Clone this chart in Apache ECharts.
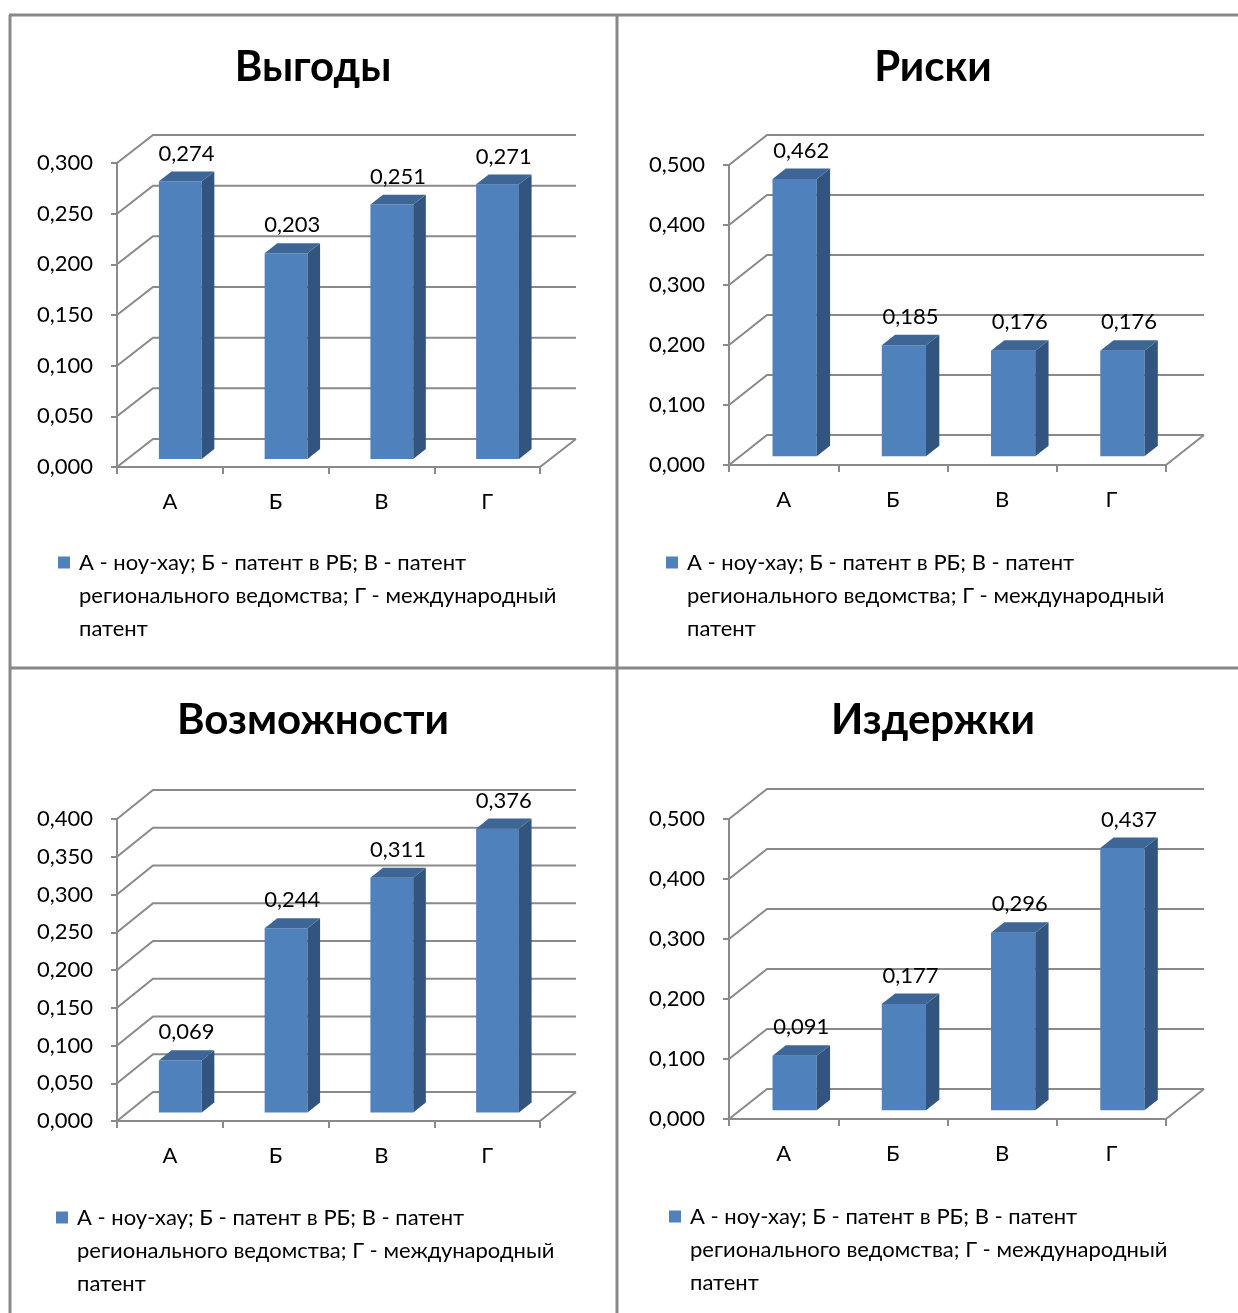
<!DOCTYPE html>
<html>
<head>
<meta charset="utf-8">
<script src="https://cdn.jsdelivr.net/npm/echarts@6/dist/echarts.min.js"></script>
<style>
  html, body { margin: 0; padding: 0; background: #fff; }
  #chart { width: 1238px; height: 1313px; }
</style>
</head>
<body>
<div id="chart"></div>
<script>
// data
const categories = ['А', 'Б', 'В', 'Г'];
const titles = ['Выгоды', 'Риски', 'Возможности', 'Издержки'];
const benefits = [0.274, 0.203, 0.251, 0.271];
const risks = [0.462, 0.185, 0.176, 0.176];
const opportunities = [0.069, 0.244, 0.311, 0.376];
const costs = [0.091, 0.177, 0.296, 0.437];
const axisMax = [0.3, 0.5, 0.4, 0.5];
const axisStep = [0.05, 0.1, 0.05, 0.1];
const legendName = 'А - ноу-хау; Б - патент в РБ; В - патент\nрегионального ведомства; Г - международный\nпатент';

const FONT = 'Lato, "Open Sans", sans-serif';
const BLUE = '#4f81bd';
const BLUE_TOP = '#3d6696';
const BLUE_SIDE = '#32557f';
const GRID = '#8a8a8a';
const BORDER = '#888888';

// layout of each panel (front plane of the 3d box + depth offset)
const panels = [
  { values: benefits, grid: { left: 117, top: 163, width: 423, height: 304 }, depth: [36, -28], titleX: 313, titleY: 46, legend: [58, 480] },
  { values: risks, grid: { left: 729, top: 165, width: 437, height: 300 }, depth: [38, -30], titleX: 933, titleY: 46, legend: [666, 480] },
  { values: opportunities, grid: { left: 117, top: 819, width: 423, height: 302 }, depth: [36, -29], titleX: 313, titleY: 699, legend: [56, 1135] },
  { values: costs, grid: { left: 729, top: 819, width: 437, height: 300 }, depth: [38, -30], titleX: 933, titleY: 699, legend: [669, 1134] }
];

const F1 = 0.29; // bar front plane (share of depth)
const F2 = 0.64; // bar back plane
const fmt = v => v.toFixed(3).replace('.', ',');

function wallItem(depth) {
  return function (params, api) {
    const cs = params.coordSys;
    const v = api.value(1);
    const y = api.coord([0, v])[1];
    const x0 = cs.x;
    const x1 = cs.x + cs.width;
    const dx = depth[0], dy = depth[1];
    const style = { stroke: GRID, lineWidth: 2, fill: 'none' };
    const children = [{
      type: 'polyline',
      shape: { points: [[x0, y], [x0 + dx, y + dy], [x1 + dx, y + dy]] },
      style: style
    }];
    if (v === 0) {
      children.push({ type: 'line', shape: { x1: x1, y1: y, x2: x1 + dx, y2: y + dy }, style: style });
    }
    return { type: 'group', children: children };
  };
}

function barItem(depth) {
  return function (params, api) {
    const i = api.value(0);
    const v = api.value(1);
    const base = api.coord([i, 0]);
    const top = api.coord([i, v]);
    const band = api.size([1, 0])[0];
    const dx = depth[0], dy = depth[1];
    const w = band * 0.405;
    const xl = base[0] - w / 2 + dx * F1;
    const xr = xl + w;
    const yb = base[1] + dy * F1;
    const yt = top[1] + dy * F1;
    const bdx = dx * (F2 - F1);
    const bdy = dy * (F2 - F1);
    return {
      type: 'group',
      children: [
        { type: 'rect', shape: { x: xl, y: yt, width: w, height: yb - yt }, style: { fill: BLUE } },
        { type: 'polygon', shape: { points: [[xr, yt], [xr + bdx, yt + bdy], [xr + bdx, yb + bdy], [xr, yb]] }, style: { fill: BLUE_SIDE } },
        { type: 'polygon', shape: { points: [[xl, yt], [xl + bdx, yt + bdy], [xr + bdx, yt + bdy], [xr, yt]] }, style: { fill: BLUE_TOP } },
        {
          type: 'text',
          style: {
            text: fmt(v),
            x: (xl + xr) / 2 + bdx / 2,
            y: yt + bdy - 18,
            align: 'center', verticalAlign: 'middle',
            textAlign: 'center', textVerticalAlign: 'middle',
            font: '22px ' + FONT,
            fill: '#000'
          }
        }
      ]
    };
  };
}

const chart = echarts.init(document.getElementById('chart'));

const lineStyle = { color: GRID, width: 2 };
const option = {
  backgroundColor: '#fff',
  animation: false,
  title: panels.map((p, k) => ({
    text: titles[k],
    left: p.titleX,
    top: p.titleY,
    textAlign: 'center',
    padding: 0,
    textStyle: { fontFamily: FONT, fontSize: 42, fontWeight: 'bold', color: '#000' }
  })),
  legend: panels.map(p => ({
    left: p.legend[0],
    top: p.legend[1],
    padding: 0,
    icon: 'rect',
    itemWidth: 12,
    itemHeight: 12,
    selectedMode: false,
    data: [{ name: legendName, itemStyle: { color: BLUE } }],
    // two empty lines above so the marker sits on the first text line
    formatter: name => '\n\n' + name,
    textStyle: {
      fontFamily: FONT, fontSize: 22, color: '#000',
      lineHeight: 33, padding: [0, 0, 0, 4]
    }
  })),
  grid: panels.map(p => p.grid),
  xAxis: panels.map((p, k) => ({
    gridIndex: k,
    type: 'category',
    data: categories,
    axisLine: { show: true, lineStyle: lineStyle },
    axisTick: { show: true, length: 7, lineStyle: lineStyle },
    axisLabel: { margin: 24, fontSize: 22, fontFamily: FONT, color: '#000' },
    splitLine: { show: false }
  })),
  yAxis: panels.map((p, k) => ({
    gridIndex: k,
    type: 'value',
    min: 0,
    max: axisMax[k],
    interval: axisStep[k],
    axisLine: { show: true, lineStyle: lineStyle },
    axisTick: { show: true, length: 6, lineStyle: lineStyle },
    axisLabel: { margin: 24, fontSize: 22, fontFamily: FONT, color: '#000', formatter: fmt },
    splitLine: { show: false }
  })),
  series: [],
  graphic: [
    { type: 'line', shape: { x1: 9, y1: 15, x2: 1238, y2: 15 }, style: { stroke: BORDER, lineWidth: 3 } },
    { type: 'line', shape: { x1: 10, y1: 15, x2: 10, y2: 1313 }, style: { stroke: BORDER, lineWidth: 3 } },
    { type: 'line', shape: { x1: 617, y1: 15, x2: 617, y2: 1313 }, style: { stroke: BORDER, lineWidth: 3 } },
    { type: 'line', shape: { x1: 10, y1: 668, x2: 1238, y2: 668 }, style: { stroke: BORDER, lineWidth: 3 } }
  ]
};

panels.forEach((p, k) => {
  const ticks = [];
  const n = Math.round(axisMax[k] / axisStep[k]);
  for (let t = 0; t <= n; t++) ticks.push([0, +(t * axisStep[k]).toFixed(3)]);
  option.series.push({
    type: 'custom',
    name: 'wall' + k,
    xAxisIndex: k,
    yAxisIndex: k,
    renderItem: wallItem(p.depth),
    data: ticks,
    silent: true,
    z: 1
  });
  option.series.push({
    type: 'custom',
    name: legendName,
    xAxisIndex: k,
    yAxisIndex: k,
    itemStyle: { color: BLUE },
    renderItem: barItem(p.depth),
    data: p.values.map((v, i) => [i, v]),
    z: 3
  });
});

chart.setOption(option);
</script>
</body>
</html>
